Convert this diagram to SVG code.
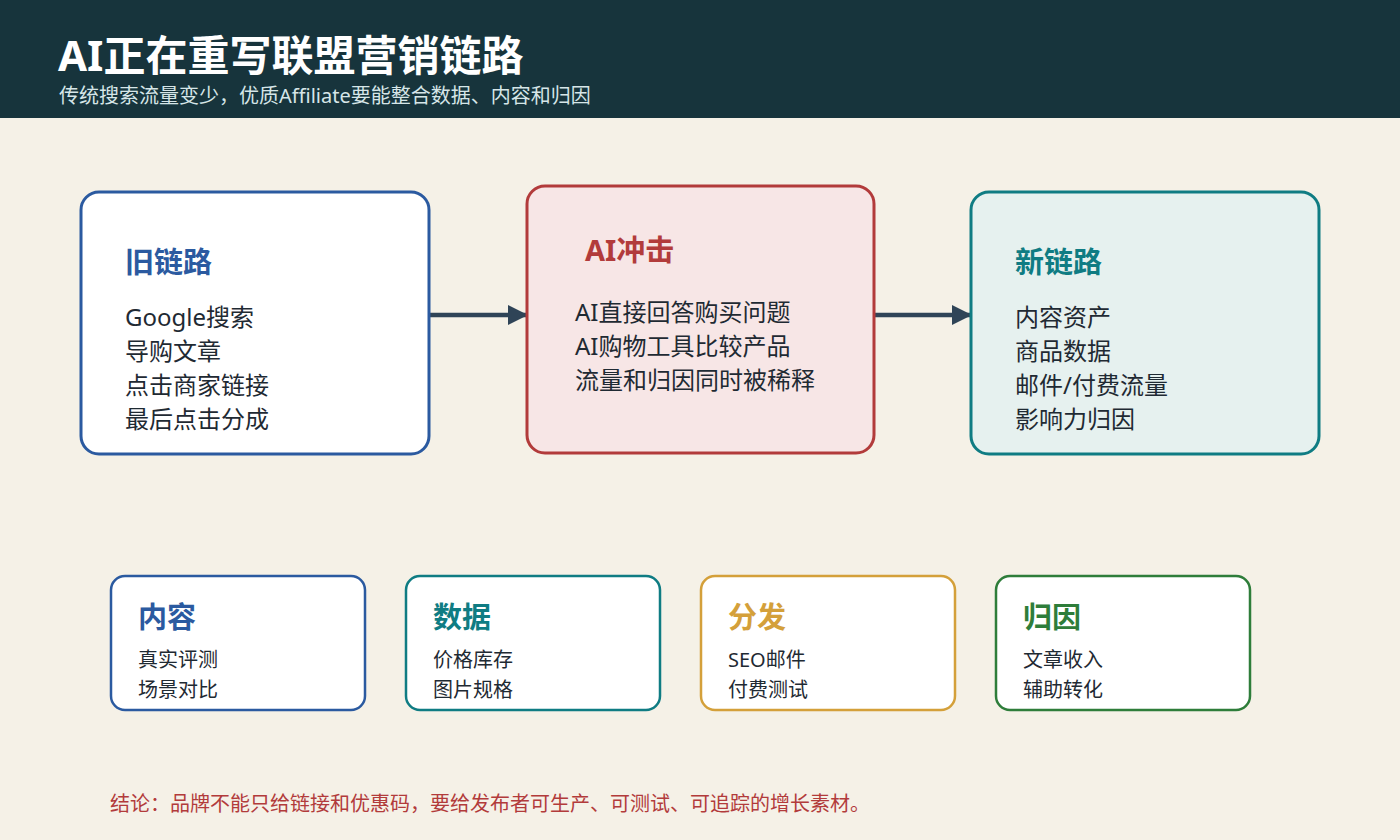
<svg xmlns="http://www.w3.org/2000/svg" width="1400" height="840" viewBox="0 0 1400 840">
<defs>
<style>
text{font-family:"Noto Sans","Noto Sans CJK SC",sans-serif;}
.h{font-weight:700;font-size:29px;}
.b{font-size:24px;fill:#1f2a33;}
.s{font-size:20px;fill:#1f2a33;}
.big{stroke-width:3;rx:18;}
.sm{stroke-width:2.5;rx:14;}
</style>
<marker id="ah" markerWidth="20" markerHeight="20" refX="19" refY="10" orient="auto" markerUnits="userSpaceOnUse" viewBox="0 0 20 20">
<path d="M0,0 L20,10 L0,20 z" fill="#2f4457"/>
</marker>
</defs>
<rect x="0" y="0" width="1400" height="840" fill="#f5f1e7"/>
<g id="header">
<rect x="0" y="0" width="1400" height="118" fill="#17343c"/>
<text x="58" y="71" font-size="42" font-weight="700" fill="#ffffff">AI正在重写联盟营销链路</text>
<text x="59" y="103" font-size="20" fill="#d6e6e8">传统搜索流量变少，优质Affiliate要能整合数据、内容和归因</text>
</g>
<g id="connectors" stroke="#2f4457" stroke-width="4.5" fill="none">
<line x1="430" y1="315" x2="527" y2="315" marker-end="url(#ah)"/>
<line x1="875" y1="315" x2="971" y2="315" marker-end="url(#ah)"/>
</g>
<g id="old">
<rect class="big" x="81" y="192" width="348" height="262" fill="#ffffff" stroke="#2b5aa0"/>
<text class="h" x="125" y="273" fill="#2b5aa0">旧链路</text>
<text class="b" x="125" y="326">Google搜索</text>
<text class="b" x="125" y="360">导购文章</text>
<text class="b" x="125" y="394">点击商家链接</text>
<text class="b" x="125" y="428">最后点击分成</text>
</g>
<g id="ai">
<rect class="big" x="527" y="186" width="347" height="267" fill="#f7e6e6" stroke="#b23b3b"/>
<text class="h" x="585" y="261" fill="#b23b3b">AI冲击</text>
<text class="b" x="575" y="321">AI直接回答购买问题</text>
<text class="b" x="575" y="355">AI购物工具比较产品</text>
<text class="b" x="575" y="389">流量和归因同时被稀释</text>
</g>
<g id="new">
<rect class="big" x="971" y="192" width="348" height="262" fill="#e6f1ef" stroke="#0f7c83"/>
<text class="h" x="1015" y="273" fill="#0f7c83">新链路</text>
<text class="b" x="1015" y="326">内容资产</text>
<text class="b" x="1015" y="360">商品数据</text>
<text class="b" x="1015" y="394">邮件/付费流量</text>
<text class="b" x="1015" y="428">影响力归因</text>
</g>
<g id="content">
<rect class="sm" x="111" y="576" width="254" height="134" fill="#ffffff" stroke="#2b5aa0"/>
<text class="h" x="138" y="628" fill="#2b5aa0">内容</text>
<text class="s" x="138" y="667">真实评测</text>
<text class="s" x="138" y="697">场景对比</text>
</g>
<g id="data">
<rect class="sm" x="406" y="576" width="254" height="134" fill="#ffffff" stroke="#0f7c83"/>
<text class="h" x="433" y="628" fill="#0f7c83">数据</text>
<text class="s" x="433" y="667">价格库存</text>
<text class="s" x="433" y="697">图片规格</text>
</g>
<g id="dist">
<rect class="sm" x="701" y="576" width="254" height="134" fill="#ffffff" stroke="#d4a03a"/>
<text class="h" x="728" y="628" fill="#d4a03a">分发</text>
<text class="s" x="728" y="667">SEO邮件</text>
<text class="s" x="728" y="697">付费测试</text>
</g>
<g id="attr">
<rect class="sm" x="996" y="576" width="254" height="134" fill="#ffffff" stroke="#2e7d3a"/>
<text class="h" x="1023" y="628" fill="#2e7d3a">归因</text>
<text class="s" x="1023" y="667">文章收入</text>
<text class="s" x="1023" y="697">辅助转化</text>
</g>
<g id="footer">
<text x="110" y="811" font-size="20" fill="#b23b3b">结论：品牌不能只给链接和优惠码，要给发布者可生产、可测试、可追踪的增长素材。</text>
</g>
</svg>
